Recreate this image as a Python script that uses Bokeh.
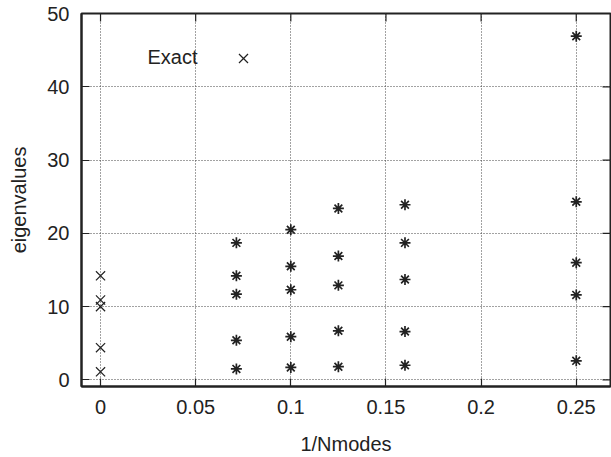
import math
from bokeh.plotting import figure
from bokeh.models import Range1d, FixedTicker, Label, Legend, LegendItem
from bokeh.embed import file_html
from bokeh.resources import INLINE

# Exact eigenvalues (x = 0)
exact_x = [0, 0, 0, 0, 0]
exact_y = [14.2, 10.9, 10.0, 4.4, 1.1]

# Computed eigenvalues at various 1/Nmodes
comp_x = [0.0714, 0.0714, 0.0714, 0.0714, 0.0714,
          0.1, 0.1, 0.1, 0.1, 0.1,
          0.125, 0.125, 0.125, 0.125, 0.125,
          0.16, 0.16, 0.16, 0.16, 0.16,
          0.25, 0.25, 0.25, 0.25, 0.25]
comp_y = [18.7, 14.2, 11.7, 5.4, 1.5,
          20.5, 15.5, 12.3, 5.9, 1.7,
          23.4, 16.9, 12.9, 6.7, 1.8,
          23.9, 18.7, 13.7, 6.6, 2.0,
          46.9, 24.3, 16.0, 11.6, 2.6]

x_ticks = [0, 0.05, 0.1, 0.15, 0.2, 0.25]
x_tick_labels = ["0", "0.05", "0.1", "0.15", "0.2", "0.25"]
y_ticks = [0, 10, 20, 30, 40, 50]

X_START, X_END = -0.01, 0.268
Y_START, Y_END = -0.9, 50

FONT = "Liberation Sans"
FS = "20px"
INK = "#222222"

p = figure(width=611, height=457, output_backend="svg", toolbar_location=None,
           x_range=Range1d(X_START, X_END), y_range=Range1d(Y_START, Y_END),
           min_border_left=81, min_border_right=1, min_border_top=13, min_border_bottom=68)
p.background_fill_color = "white"
p.border_fill_color = "white"
p.outline_line_color = INK
p.outline_line_width = 2

for ax in (p.xaxis[0], p.yaxis[0]):
    ax.major_label_text_font = FONT
    ax.major_label_text_font_size = FS
    ax.major_label_text_color = INK
    ax.axis_label_text_font = FONT
    ax.axis_label_text_font_size = FS
    ax.axis_label_text_font_style = "normal"
    ax.axis_label_text_color = INK
    ax.major_tick_in = 8
    ax.major_tick_out = 0
    ax.major_tick_line_color = INK
    ax.major_tick_line_width = 1.2
    ax.minor_tick_line_color = None
    ax.axis_line_color = INK
    ax.axis_line_width = 2

p.xaxis.ticker = FixedTicker(ticks=x_ticks)
p.xaxis.major_label_overrides = {t: l for t, l in zip(x_ticks, x_tick_labels)}
p.yaxis.ticker = FixedTicker(ticks=y_ticks)
p.xaxis.axis_label = "1/Nmodes"
p.yaxis.axis_label = "eigenvalues"
p.xaxis.major_label_standoff = 13
p.xaxis.axis_label_standoff = 16
p.yaxis.major_label_standoff = 12
p.yaxis.axis_label_standoff = 14

for g in (p.xgrid[0], p.ygrid[0]):
    g.grid_line_color = "#444444"
    g.grid_line_dash = "1 2"
    g.grid_line_width = 1

# mirror ticks (top and right)
p.ray(x=x_ticks, y=[Y_END] * len(x_ticks), length=8, length_units="screen",
      angle=-math.pi / 2, line_color=INK, line_width=1.2)
p.ray(x=[X_END] * len(y_ticks), y=y_ticks, length=8, length_units="screen",
      angle=math.pi, line_color=INK, line_width=1.2)

exact_r = p.scatter(exact_x, exact_y, marker="x", size=13, line_color=INK, line_width=1.2)
p.scatter(comp_x, comp_y, marker="asterisk", size=11, line_color=INK, line_width=1.7)

# key: text then symbol (gnuplot style)
p.add_layout(Label(x=66, y=330, x_units="screen", y_units="screen", text="Exact",
                   text_font=FONT, text_font_size=FS, text_color=INK,
                   text_align="left", text_baseline="alphabetic"))
leg = Legend(items=[LegendItem(label="", renderers=[exact_r])], location=(146, 312),
             padding=0, margin=0, spacing=0, label_width=0, label_standoff=0,
             glyph_width=32, glyph_height=32, label_height=32,
             border_line_color=None, background_fill_alpha=0)
p.add_layout(leg)

open("out.html", "w").write(file_html(p, INLINE))
